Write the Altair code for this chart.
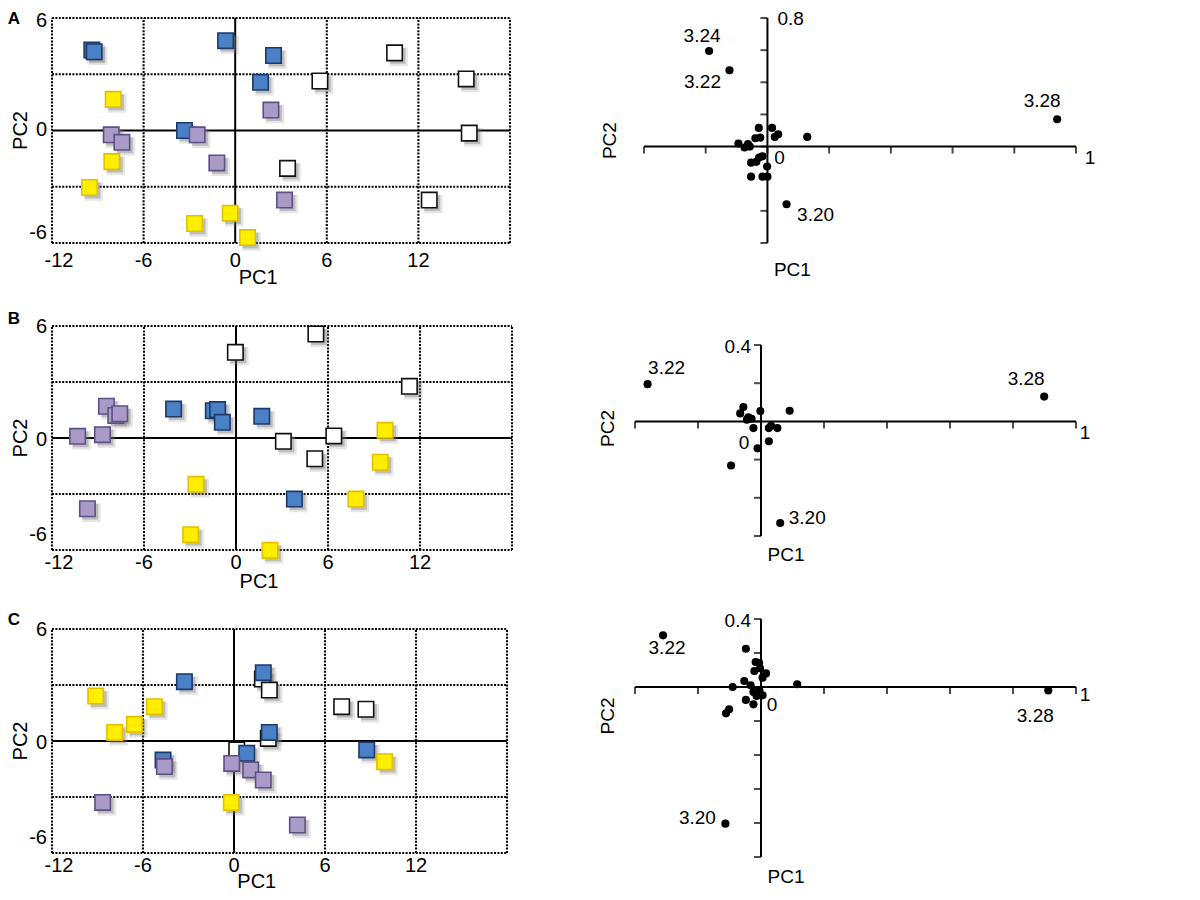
import altair as alt
import pandas as pd

# ---------------- data: left panels (scores) ----------------
groups = ["white", "blue", "purple", "yellow"]
fills = ["#ffffff", "#4a80c6", "#a99bc8", "#ffee00"]
strokes = ["#111111", "#1d3a6b", "#5f4f88", "#e2c000"]

# Panel A
a_white_x = [10.44, 5.55, 15.13, 15.33, 3.43, 12.71]
a_white_y = [4.14, 2.64, 2.75, -0.14, -2.02, -3.71]
a_blue_x = [-9.39, -9.24, -0.63, 2.51, 1.66, -3.32]
a_blue_y = [4.29, 4.20, 4.79, 4.00, 2.57, 0.00]
a_purple_x = [-8.12, -7.42, -2.49, 2.34, -1.20, 3.23]
a_purple_y = [-0.23, -0.63, -0.23, 1.09, -1.73, -3.71]
a_yellow_x = [-7.99, -8.08, -9.54, -0.33, -2.66, 0.81]
a_yellow_y = [1.66, -1.66, -3.04, -4.41, -4.96, -5.71]

# Panel B
b_white_x = [-0.04, 5.21, 11.31, 3.09, 6.38, 5.14]
b_white_y = [4.59, 5.57, 2.77, -0.18, 0.11, -1.11]
b_blue_x = [-4.07, -1.48, -1.20, -0.89, 1.68, 3.81]
b_blue_y = [1.55, 1.46, 1.52, 0.84, 1.16, -3.27]
b_purple_x = [-8.45, -7.84, -7.58, -10.33, -8.71, -9.69]
b_purple_y = [1.70, 1.21, 1.30, 0.09, 0.18, -3.79]
b_yellow_x = [9.72, 9.41, -2.61, 7.82, -2.96, 2.22]
b_yellow_y = [0.41, -1.30, -2.48, -3.27, -5.18, -6.02]

# Panel C
c_white_x = [1.87, 2.33, 7.10, 8.70, 2.26, 0.18]
c_white_y = [3.32, 2.73, 1.84, 1.70, 0.14, -0.48]
c_blue_x = [-3.27, 1.93, 2.33, -4.68, 0.84, 8.75]
c_blue_y = [3.18, 3.66, 0.46, -1.02, -0.66, -0.48]
c_purple_x = [-4.59, -0.15, 1.10, 1.93, -8.66, 4.18]
c_purple_y = [-1.37, -1.20, -1.55, -2.09, -3.29, -4.50]
c_yellow_x = [-9.12, -5.25, -6.57, -7.87, 9.93, -0.18]
c_yellow_y = [2.41, 1.84, 0.89, 0.46, -1.11, -3.29]

# left-panel axes
score_grid_x = [-12, -6, 6, 12, 18]
score_grid_y = [-6, -3, 3, 6]
score_xticks = [-12, -6, 0, 6, 12]
score_yticks = [6, 0, -6]

# ---------------- data: right panels (loadings) ----------------
ra_x = [-0.189, -0.123, 0.939, 0.062, -0.028, 0.015, 0.035, 0.024, 0.129, -0.039, -0.023,
        -0.094, -0.063, -0.074, -0.057, -0.016, -0.027, -0.053, -0.036, -0.001, -0.053, -0.016, 0.000]
ra_y = [0.595, 0.475, 0.170, -0.359, 0.116, 0.116, 0.077, 0.060, 0.060, 0.052, 0.056,
        0.019, 0.015, -0.006, 0.000, -0.060, -0.068, -0.100, -0.095, -0.124, -0.187, -0.187, -0.187]
ra_lab = ["3.24", "3.22", "3.28", "3.20"] + [""] * 19

rb_x = [-0.360, 0.899, 0.061, -0.095, -0.011, 0.025, 0.091, -0.002, -0.056, -0.066, -0.040,
        -0.030, -0.024, 0.025, 0.052, 0.032, -0.045]
rb_y = [0.195, 0.130, -0.532, -0.231, -0.141, -0.104, 0.056, 0.054, 0.075, 0.042, 0.021,
        0.014, -0.035, -0.035, -0.035, -0.023, 0.009]
rb_lab = ["3.22", "3.28", "3.20"] + [""] * 14

rc_x = [-0.311, 0.912, -0.113, -0.048, -0.017, -0.006, -0.003, -0.021, 0.016, 0.005, 0.115,
        -0.053, -0.090, -0.033, -0.024, -0.005, 0.005, -0.048, -0.024, -0.101, -0.111, -0.014]
rc_y = [0.304, -0.020, -0.804, 0.225, 0.147, 0.143, 0.110, 0.094, 0.080, 0.055, 0.016,
        0.035, 0.000, 0.010, -0.029, -0.020, -0.049, -0.076, -0.102, -0.131, -0.155, -0.053]
rc_lab = ["3.22", "3.28", "3.20"] + [""] * 19

load_xticks = [-0.4, -0.2, 0.0, 0.2, 0.4, 0.6, 0.8, 1.0]
ra_yticks = [-0.6, -0.4, -0.2, 0.0, 0.2, 0.4, 0.6, 0.8]
rb_yticks = [-0.6, -0.4, -0.2, 0.0, 0.2, 0.4]
rc_yticks = [-1.0, -0.8, -0.6, -0.4, -0.2, 0.0, 0.2, 0.4]

FONT = "Liberation Sans"
FS = 20      # tick labels / axis titles
FS_LAB = 19  # point labels


def scores_df(xs_list, ys_list):
    rows = []
    k = 0
    for g, xs, ys in zip(groups, xs_list, ys_list):
        for x, y in zip(xs, ys):
            rows.append({"x": x, "y": y, "grp": g, "k": k})
            k += 1
    return pd.DataFrame(rows)


def score_panel(df, xrange, yrange, letter, letter_dy, tick_dy, title_dy, ylab_dys):
    X = alt.Scale(domain=[-12, 18], range=xrange, nice=False, zero=False)
    Y = alt.Scale(domain=[-6, 6], range=yrange, nice=False, zero=False)
    xe = lambda f: alt.X(f, type="quantitative", scale=X, axis=None)
    ye = lambda f: alt.Y(f, type="quantitative", scale=Y, axis=None)

    vg = pd.DataFrame({"gx": score_grid_x, "y0": -6, "y1": 6})
    hg = pd.DataFrame({"gy": score_grid_y, "x0": -12, "x1": 18})
    dotted = dict(color="#000000", strokeWidth=2.1, strokeDash=[2, 1.4])
    vgrid = alt.Chart(vg).mark_rule(**dotted).encode(x=xe("gx"), y=ye("y0"), y2="y1")
    hgrid = alt.Chart(hg).mark_rule(**dotted).encode(y=ye("gy"), x=xe("x0"), x2="x1")

    ax_v = alt.Chart(pd.DataFrame({"gx": [0], "y0": [-6], "y1": [6]})).mark_rule(
        color="black", strokeWidth=2).encode(x=xe("gx"), y=ye("y0"), y2="y1")
    ax_h = alt.Chart(pd.DataFrame({"gy": [0], "x0": [-12], "x1": [18]})).mark_rule(
        color="black", strokeWidth=2).encode(y=ye("gy"), x=xe("x0"), x2="x1")

    xt = pd.DataFrame({"v": score_xticks, "y": -6, "t": [str(v) for v in score_xticks]})
    xt_first = alt.Chart(xt.iloc[:1]).mark_text(font=FONT, fontSize=FS, dy=tick_dy, dx=7,
                                                baseline="middle").encode(x=xe("v"), y=ye("y"), text="t:N")
    xt_rest = alt.Chart(xt.iloc[1:]).mark_text(font=FONT, fontSize=FS, dy=tick_dy,
                                               baseline="middle").encode(x=xe("v"), y=ye("y"), text="t:N")
    yt = pd.DataFrame({"v": score_yticks, "x": -12, "t": [str(v) for v in score_yticks]})
    ylayers = []
    for i, ddy in enumerate(ylab_dys):
        ylayers.append(alt.Chart(yt.iloc[i:i + 1]).mark_text(
            font=FONT, fontSize=FS, align="right", dx=-5, dy=ddy,
            baseline="middle").encode(y=ye("v"), x=xe("x"), text="t:N"))

    tt = pd.DataFrame({"x": [1.5], "y": [-6], "t": ["PC1"]})
    t1 = alt.Chart(tt).mark_text(font=FONT, fontSize=FS, dy=title_dy,
                                 baseline="middle").encode(x=xe("x"), y=ye("y"), text="t:N")
    t2d = pd.DataFrame({"x": [-12], "y": [0], "t": ["PC2"]})
    t2 = alt.Chart(t2d).mark_text(font=FONT, fontSize=FS, angle=270, xOffset=-31,
                                  baseline="middle").encode(x=xe("x"), y=ye("y"), text="t:N")
    ld = pd.DataFrame({"x": [-12], "y": [6], "t": [letter]})
    lt = alt.Chart(ld).mark_text(font=FONT, fontSize=17, fontWeight="bold", xOffset=-38,
                                 yOffset=letter_dy, baseline="middle").encode(
        x=xe("x"), y=ye("y"), text="t:N")

    fill = alt.Color("grp:N", scale=alt.Scale(domain=groups, range=fills), legend=None)
    strk = alt.Stroke("grp:N", scale=alt.Scale(domain=groups, range=strokes), legend=None)
    sh1 = alt.Chart(df).mark_square(size=340, color="#8a8a8a", opacity=0.22, xOffset=4, yOffset=4).encode(
        x=xe("x"), y=ye("y"), order="k:Q")
    sh2 = alt.Chart(df).mark_square(size=250, color="#707070", opacity=0.35, xOffset=3, yOffset=3).encode(
        x=xe("x"), y=ye("y"), order="k:Q")
    sq = alt.Chart(df).mark_square(size=238, opacity=1, strokeWidth=1.6, filled=True).encode(
        x=xe("x"), y=ye("y"), fill=fill, stroke=strk, order="k:Q")
    return alt.layer(vgrid, hgrid, ax_v, ax_h, sh1, sh2, sq, xt_first, xt_rest, *ylayers, t1, t2, lt)


def load_panel(xs, ys, labs, yticks, xrange, yrange, label_offsets, top_lab, top_off,
               zero_off, one_off, pc1_dy, pc2_off):
    ydom = [yticks[0], yticks[-1]]
    X = alt.Scale(domain=[-0.4, 1.0], range=xrange, nice=False, zero=False)
    Y = alt.Scale(domain=ydom, range=yrange, nice=False, zero=False)
    xe = lambda f: alt.X(f, type="quantitative", scale=X, axis=None)
    ye = lambda f: alt.Y(f, type="quantitative", scale=Y, axis=None)
    df = pd.DataFrame({"x": xs, "y": ys, "lab": labs})

    axh = alt.Chart(pd.DataFrame({"y": [0], "x0": [-0.4], "x1": [1.0]})).mark_rule(
        color="black", strokeWidth=2).encode(y=ye("y"), x=xe("x0"), x2="x1")
    axv = alt.Chart(pd.DataFrame({"x": [0], "y0": [ydom[0]], "y1": [ydom[1]]})).mark_rule(
        color="black", strokeWidth=2).encode(x=xe("x"), y=ye("y0"), y2="y1")
    xt = alt.Chart(pd.DataFrame({"x": load_xticks, "y": 0})).mark_tick(
        orient="vertical", size=7, thickness=2, yOffset=3.5, color="black").encode(x=xe("x"), y=ye("y"))
    yt = alt.Chart(pd.DataFrame({"y": yticks, "x": 0})).mark_tick(
        orient="horizontal", size=7, thickness=2, xOffset=-3.5, color="black").encode(x=xe("x"), y=ye("y"))
    pts = alt.Chart(df).mark_circle(size=66, color="black", opacity=1).encode(x=xe("x"), y=ye("y"))

    layers = [axh, axv, xt, yt, pts]
    for lab, (ddx, ddy) in label_offsets.items():
        layers.append(alt.Chart(df).transform_filter(alt.datum.lab == lab).mark_text(
            font=FONT, fontSize=FS_LAB, dx=ddx, dy=ddy, baseline="middle").encode(
            x=xe("x"), y=ye("y"), text="lab:N"))

    tl = pd.DataFrame({"x": [0, 0, 1.0], "y": [ydom[1], 0, 0], "t": [top_lab, "0", "1"]})
    align_top = "left" if top_off[0] > 0 else "right"
    layers.append(alt.Chart(tl.iloc[:1]).mark_text(font=FONT, fontSize=FS_LAB, align=align_top, dx=top_off[0],
                                                   dy=top_off[1], baseline="middle").encode(
        x=xe("x"), y=ye("y"), text="t:N"))
    layers.append(alt.Chart(tl.iloc[1:2]).mark_text(font=FONT, fontSize=FS_LAB, dx=zero_off[0],
                                                    dy=zero_off[1], baseline="middle").encode(
        x=xe("x"), y=ye("y"), text="t:N"))
    layers.append(alt.Chart(tl.iloc[2:3]).mark_text(font=FONT, fontSize=FS_LAB, dx=one_off[0],
                                                    dy=one_off[1], baseline="middle").encode(
        x=xe("x"), y=ye("y"), text="t:N"))
    layers.append(alt.Chart(pd.DataFrame({"x": [0], "y": [ydom[0]], "t": ["PC1"]})).mark_text(
        font=FONT, fontSize=FS_LAB, dx=25, dy=pc1_dy, baseline="middle").encode(x=xe("x"), y=ye("y"), text="t:N"))
    layers.append(alt.Chart(pd.DataFrame({"x": [-0.4], "y": [0], "t": ["PC2"]})).mark_text(
        font=FONT, fontSize=FS_LAB, angle=270, xOffset=pc2_off[0], yOffset=pc2_off[1], baseline="middle").encode(
        x=xe("x"), y=ye("y"), text="t:N"))
    return alt.layer(*layers)


pA = score_panel(scores_df([a_white_x, a_blue_x, a_purple_x, a_yellow_x],
                           [a_white_y, a_blue_y, a_purple_y, a_yellow_y]),
                 [44, 502], [235, 10], "A", 1, 18, 35, [3, -1, -10])
pB = score_panel(scores_df([b_white_x, b_blue_x, b_purple_x, b_yellow_x],
                           [b_white_y, b_blue_y, b_purple_y, b_yellow_y]),
                 [44, 504], [542, 318], "B", -7, 13, 32, [1, 2, -15])
pC = score_panel(scores_df([c_white_x, c_blue_x, c_purple_x, c_yellow_x],
                           [c_white_y, c_blue_y, c_purple_y, c_yellow_y]),
                 [44, 499], [845, 621], "C", -9, 13, 29, [1, 2, -15])

rA = load_panel(ra_x, ra_y, ra_lab, ra_yticks, [636, 1068], [235, 10],
                {"3.24": (-7, -15), "3.22": (-27, 12), "3.28": (-15, -18), "3.20": (29, 11)},
                "0.8", (10, 1), (12, 11), (14, 11), 27, (-34, -6))
rB = load_panel(rb_x, rb_y, rb_lab, rb_yticks, [627, 1068], [528, 337],
                {"3.22": (19, -16), "3.28": (-18, -18), "3.20": (27, -5)},
                "0.4", (-10, 2), (-17, 22), (9, 12), 19, (-27, 7))
rC = load_panel(rc_x, rc_y, rc_lab, rc_yticks, [627, 1068], [849, 611],
                {"3.22": (4, 13), "3.28": (-13, 26), "3.20": (-28, -6)},
                "0.4", (-10, 2), (11, 18), (9, 8), 20, (-27, 29))

chart = alt.layer(pA, rA, pB, rB, pC, rC).resolve_scale(
    x="independent", y="independent"
).properties(
    width=1184, height=884, padding=0,
    autosize=alt.AutoSizeParams(type="none"),
    background="white",
).configure_view(stroke=None)

chart.save("out.html", embed_options={"renderer": "svg", "actions": False})
